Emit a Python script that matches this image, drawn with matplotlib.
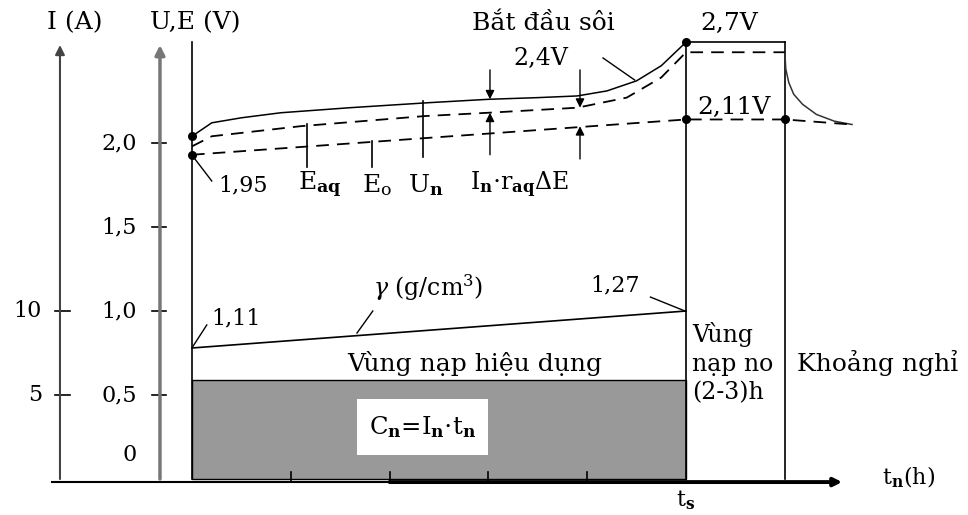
import numpy as np
import matplotlib
matplotlib.use('Agg')
import matplotlib.pyplot as plt
from matplotlib.patches import Rectangle

plt.rcParams['font.family'] = ['DejaVu Serif']
plt.rcParams['mathtext.fontset'] = 'dejavuserif'

# time (h) and voltage (V)
t_un = [0, 0.1, 0.2, 0.5, 0.9, 1.6, 2.4, 3.0, 3.5, 3.9, 4.2, 4.5, 4.75, 5.0]
v_un = [2.04, 2.08, 2.12, 2.15, 2.18, 2.21, 2.24, 2.26, 2.27, 2.28, 2.31, 2.37, 2.46, 2.60]
t_eaq = [0, 0.2, 1.1, 2.35, 3.0, 3.9, 4.4, 4.75, 5.0, 6.0]
v_eaq = [1.98, 2.04, 2.10, 2.16, 2.18, 2.21, 2.27, 2.39, 2.54, 2.54]
t_eo = [0, 5.0, 6.0, 6.68]
v_eo = [1.93, 2.14, 2.14, 2.11]
t_hold = [5.0, 6.0]
v_hold = [2.60, 2.60]
t_rest = [6.0, 6.01, 6.04, 6.09, 6.18, 6.32, 6.5, 6.68]
v_rest = [2.54, 2.44, 2.36, 2.29, 2.23, 2.17, 2.13, 2.11]
t_gamma = [0, 5.0]
v_gamma = [0.78, 1.00]
dots_t = [0, 0, 5.0, 5.0, 6.0]
dots_v = [2.04, 1.93, 2.60, 2.14, 2.14]

i_charge = 5.9          # A (I axis: 10 A <-> 1,0 V)
t_s = 5.0
t_end = 6.0
t_ticks = [1, 2, 3, 4]
u_ticks = [0.5, 1.0, 1.5, 2.0]
u_labels = ['0,5', '1,0', '1,5', '2,0']
i_ticks = [5, 10]
i_labels = ['5', '10']

FS = 16      # numbers
FW = 18      # words
fig = plt.figure(figsize=(9.68, 5.15), dpi=100)
ax = fig.add_axes([0, 0, 1, 1])
ax.set_xlim(-1.943, 7.854)
ax.set_ylim(-0.214, 2.851)
ax.axis('off')

x_i, x_u = -1.336, -0.324
top = 2.583

# grey charge area
ax.add_patch(Rectangle((0, 0), t_s, i_charge / 10, facecolor='#999999', edgecolor='black', lw=1))
ax.add_patch(Rectangle((1.67, 0.143), 1.33, 0.333, facecolor='white', edgecolor='none'))
ax.text(2.33, 0.31, r'C$_{\mathbf{n}}$=I$_{\mathbf{n}}$$\cdot$t$_{\mathbf{n}}$', fontsize=FS + 1.5,
        ha='center', va='center')

# vertical axes
ax.annotate('', xy=(x_i, top), xytext=(x_i, 0), arrowprops=dict(arrowstyle='-|>', color='#444444',
            lw=1.5, mutation_scale=14, shrinkA=0, shrinkB=0))
ax.annotate('', xy=(x_u, top), xytext=(x_u, 0), arrowprops=dict(arrowstyle='-|>', color='#777777',
            lw=2.5, mutation_scale=14, shrinkA=0, shrinkB=0))
ax.plot([0, 0], [0, 2.60], color='black', lw=1.2)
ax.plot([t_s, t_s], [0, 2.60], color='black', lw=1.2)
ax.plot([t_end, t_end], [0, 2.60], color='black', lw=1.2)

# ticks
for v, lab in zip(u_ticks, u_labels):
    ax.plot([x_u - 0.08, x_u + 0.06], [v, v], color='black', lw=1.2)
    ax.text(-0.557, v, lab, fontsize=FS, ha='right', va='center')
ax.text(-0.557, 0.143, '0', fontsize=FS, ha='right', va='center')
for i, lab in zip(i_ticks, i_labels):
    ax.plot([x_i - 0.05, x_i + 0.1], [i / 10, i / 10], color='black', lw=1.2)
    ax.text(-1.518, i / 10, lab, fontsize=FS, ha='right', va='center')
for t in t_ticks:
    ax.plot([t, t], [-0.018, 0.042], color='black', lw=1.2)

# time axis
ax.plot([-1.417, 6.5], [-0.018, -0.018], color='black', lw=1.5)
ax.annotate('', xy=(6.58, -0.018), xytext=(2.0, -0.018), arrowprops=dict(arrowstyle='-|>',
            color='black', lw=2.8, mutation_scale=12, shrinkA=0, shrinkB=0))

# curves
ax.plot(t_un, v_un, color='black', lw=1.1)
ax.plot(t_hold, v_hold, color='black', lw=1.2)
ax.plot(t_rest, v_rest, color='#333333', lw=1.1)
ax.plot(t_eaq, v_eaq, color='black', lw=1.3, linestyle=(0, (7, 4.5)))
ax.plot(t_eo, v_eo, color='black', lw=1.3, linestyle=(0, (7, 4.5)))
ax.plot(t_gamma, v_gamma, color='black', lw=1.2)
ax.scatter(dots_t, dots_v, s=30, color='black', zorder=5)

# marker lines
ax.plot([1.164, 1.164], [1.857, 2.113], color='black', lw=1.2)
ax.plot([1.822, 1.822], [1.857, 2.012], color='black', lw=1.2)
ax.plot([2.338, 2.338], [1.917, 2.25], color='black', lw=1.2)

arrow = dict(arrowstyle='-|>', color='black', lw=1, mutation_scale=13, shrinkA=0, shrinkB=0)
ax.annotate('', xy=(3.016, 2.26), xytext=(3.016, 2.435), arrowprops=arrow)
ax.annotate('', xy=(3.016, 2.18), xytext=(3.016, 1.93), arrowprops=arrow)
ax.annotate('', xy=(3.927, 2.21), xytext=(3.927, 2.435), arrowprops=arrow)
ax.annotate('', xy=(3.927, 2.10), xytext=(3.927, 1.905), arrowprops=arrow)

# leader lines
ax.plot([0.01, 0.20], [1.92, 1.774], color='black', lw=1)
ax.plot([4.16, 4.48], [2.506, 2.375], color='black', lw=1)
ax.plot([0.01, 0.15], [0.79, 0.917], color='black', lw=1)
ax.plot([1.67, 1.83], [0.869, 1.0], color='black', lw=1)
ax.plot([4.64, 4.99], [1.083, 1.0], color='black', lw=1)

# texts
ax.text(-1.468, 2.714, 'I (A)', fontsize=FW, ha='left', va='center')
ax.text(-0.425, 2.714, 'U,E (V)', fontsize=FW, ha='left', va='center')
ax.text(2.834, 2.714, 'Bắt đầu sôi', fontsize=FW, ha='left', va='center')
ax.text(3.25, 2.506, '2,4V', fontsize=FS + 1, ha='left', va='center')
ax.text(5.14, 2.714, '2,7V', fontsize=FW, ha='left', va='center')
ax.text(5.11, 2.214, '2,11V', fontsize=FW, ha='left', va='center')
ax.text(0.263, 1.75, '1,95', fontsize=FS, ha='left', va='center')
ax.text(1.07, 1.75, r'E$_{\mathbf{aq}}$', fontsize=FW, ha='left', va='center')
ax.text(1.72, 1.75, r'E$_{\mathrm{o}}$', fontsize=FW, ha='left', va='center')
ax.text(2.19, 1.75, r'U$_{\mathbf{n}}$', fontsize=FW, ha='left', va='center')
ax.text(2.81, 1.75, r'I$_{\mathbf{n}}$$\cdot$r$_{\mathbf{aq}}$$\Delta$E', fontsize=FS + 1, ha='left', va='center')
ax.text(0.2, 0.958, '1,11', fontsize=FS, ha='left', va='center')
ax.text(1.83, 1.137, r'$\gamma$ (g/cm$^3$)', fontsize=FS + 1, ha='left', va='center')
ax.text(4.03, 1.155, '1,27', fontsize=FS, ha='left', va='center')
ax.text(2.86, 0.69, 'Vùng nạp hiệu dụng', fontsize=FW, ha='center', va='center')
ax.text(5.06, 0.69, 'Vùng\nnạp no\n(2-3)h', fontsize=FS + 1, ha='left', va='center', linespacing=1.3)
ax.text(6.12, 0.69, 'Khoảng nghỉ', fontsize=FW, ha='left', va='center')
ax.text(6.98, 0.012, r't$_{\mathbf{n}}$(h)', fontsize=FS, ha='left', va='center')
ax.text(t_s, -0.125, r't$_{\mathbf{s}}$', fontsize=FS, ha='center', va='center')

fig.savefig('out.png', dpi=100)
